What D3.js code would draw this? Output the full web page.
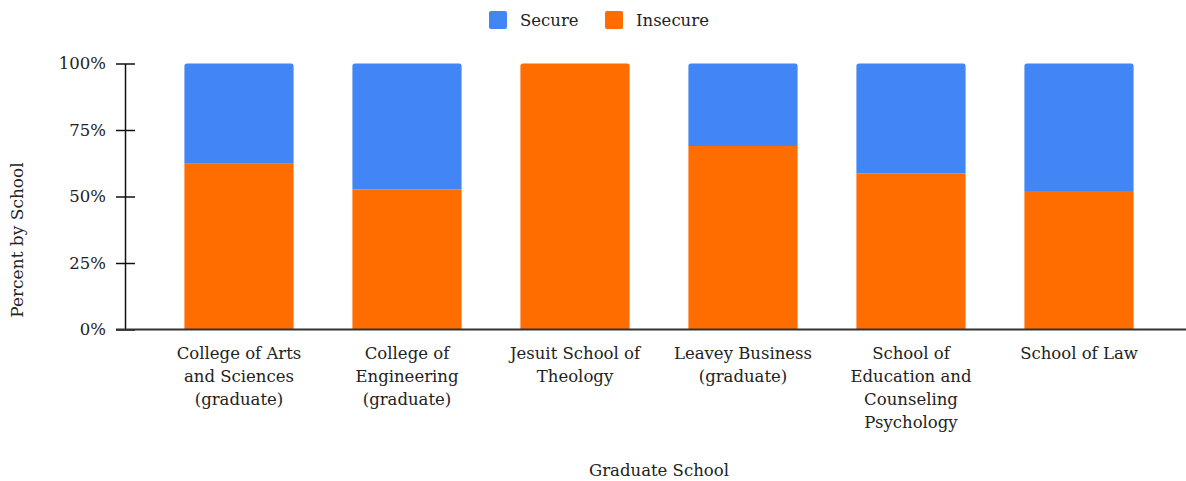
<!DOCTYPE html>
<html>
<head>
<meta charset="utf-8">
<script src="https://cdn.jsdelivr.net/npm/d3@7"></script>
<style>
  html, body { margin: 0; padding: 0; background: #fff; }
  svg { display: block; }
  text { font-family: "DejaVu Serif", "Liberation Serif", serif; fill: #222; }
</style>
</head>
<body>
<svg id="chart" width="1186" height="481"></svg>
<script>
// Graduate schools on the x axis
const categories = [
  "College of Arts and Sciences (graduate)",
  "College of Engineering (graduate)",
  "Jesuit School of Theology",
  "Leavey Business (graduate)",
  "School of Education and Counseling Psychology",
  "School of Law"
];
// Share of respondents, in percent
const insecure = [62.3, 52.6, 100, 69.0, 58.6, 52.1];
const secure = insecure.map(v => 100 - v);
const seriesNames = ["Secure", "Insecure"];
const seriesColors = ["#4285F4", "#FF6D01"];
const yTicks = [0, 25, 50, 75, 100];

const svg = d3.select("#chart");
const W = 1186, H = 481;
const FS = 16.5;

const x = d3.scaleBand()
  .domain(categories)
  .range([155, 1163])
  .paddingInner(0.35)
  .paddingOuter(0.175);

const y = d3.scaleLinear().domain([0, 100]).range([329.5, 63.5]);

// Stack: insecure at the bottom, secure on top
const rows = categories.map((c, i) => ({ category: c, Insecure: insecure[i], Secure: secure[i] }));
const stack = d3.stack().keys(["Insecure", "Secure"])(rows);
const color = d3.scaleOrdinal().domain(seriesNames).range(seriesColors);

// Bars: top segment gets slightly rounded upper corners
function barPath(x0, y0, w, h, r) {
  r = Math.min(r, h);
  return `M${x0},${y0 + h}V${y0 + r}Q${x0},${y0} ${x0 + r},${y0}H${x0 + w - r}Q${x0 + w},${y0} ${x0 + w},${y0 + r}V${y0 + h}Z`;
}

stack.forEach(layer => {
  svg.append("g")
    .attr("fill", color(layer.key))
    .selectAll("path")
    .data(layer.filter(d => d[1] - d[0] > 0))
    .join("path")
    .attr("d", d => {
      const x0 = x(d.data.category);
      const yTop = y(d[1]);
      const h = y(d[0]) - y(d[1]);
      const isTop = d[1] >= 100 - 1e-9;
      return isTop ? barPath(x0, yTop, x.bandwidth(), h, 2.5)
                   : `M${x0},${yTop}h${x.bandwidth()}v${h}h${-x.bandwidth()}Z`;
    });
});

// Y axis
const yAxis = d3.axisLeft(y)
  .tickValues(yTicks)
  .tickFormat(d => d + "%")
  .tickSizeInner(9)
  .tickSizeOuter(0)
  .tickPadding(10);

const gy = svg.append("g").attr("transform", "translate(125,0)").call(yAxis);
gy.select(".domain").attr("stroke", "#111").attr("stroke-width", 1.5);
gy.selectAll(".tick line").attr("stroke", "#111").attr("stroke-width", 1.5).attr("x2", 10).attr("x1", -9);
gy.selectAll(".tick text").attr("font-size", FS).attr("fill", "#222")
  .attr("font-family", "'DejaVu Serif', serif").attr("x", -19);

// Baseline along the bottom
svg.append("line")
  .attr("x1", 116).attr("x2", W)
  .attr("y1", y(0)).attr("y2", y(0))
  .attr("stroke", "#333").attr("stroke-width", 2);

// X axis labels (wrapped)
const xAxis = d3.axisBottom(x).tickSize(0).tickPadding(0);
const gx = svg.append("g").attr("transform", `translate(0,${y(0)})`).call(xAxis);
gx.select(".domain").remove();
gx.selectAll(".tick text")
  .attr("font-size", FS)
  .attr("fill", "#222")
  .attr("font-family", "'DejaVu Serif', serif")
  .attr("dy", null)
  .attr("y", null)
  .call(wrap, 150);

function wrap(texts, width) {
  texts.each(function() {
    const text = d3.select(this);
    const words = text.text().split(/\s+/);
    text.text(null);
    let line = [];
    let lineNo = 0;
    let tspan = text.append("tspan").attr("x", 0).attr("y", 29);
    words.forEach(word => {
      line.push(word);
      tspan.text(line.join(" "));
      if (tspan.node().getComputedTextLength() > width && line.length > 1) {
        line.pop();
        tspan.text(line.join(" "));
        line = [word];
        lineNo++;
        tspan = text.append("tspan").attr("x", 0).attr("y", 29 + lineNo * 23).text(word);
      }
    });
  });
}

// Axis titles
svg.append("text")
  .attr("x", 659).attr("y", 476)
  .attr("text-anchor", "middle")
  .attr("font-size", FS)
  .text("Graduate School");

svg.append("text")
  .attr("transform", "translate(23,240) rotate(-90)")
  .attr("text-anchor", "middle")
  .attr("font-size", 17)
  .text("Percent by School");

// Legend
const legendItems = [
  { name: "Secure", x: 489 },
  { name: "Insecure", x: 605 }
];
const lg = svg.append("g");
legendItems.forEach(it => {
  lg.append("rect")
    .attr("x", it.x).attr("y", 11)
    .attr("width", 18).attr("height", 18)
    .attr("rx", 2)
    .attr("fill", color(it.name));
  lg.append("text")
    .attr("x", it.x + 31).attr("y", 26)
    .attr("font-size", FS)
    .text(it.name);
});
</script>
</body>
</html>
